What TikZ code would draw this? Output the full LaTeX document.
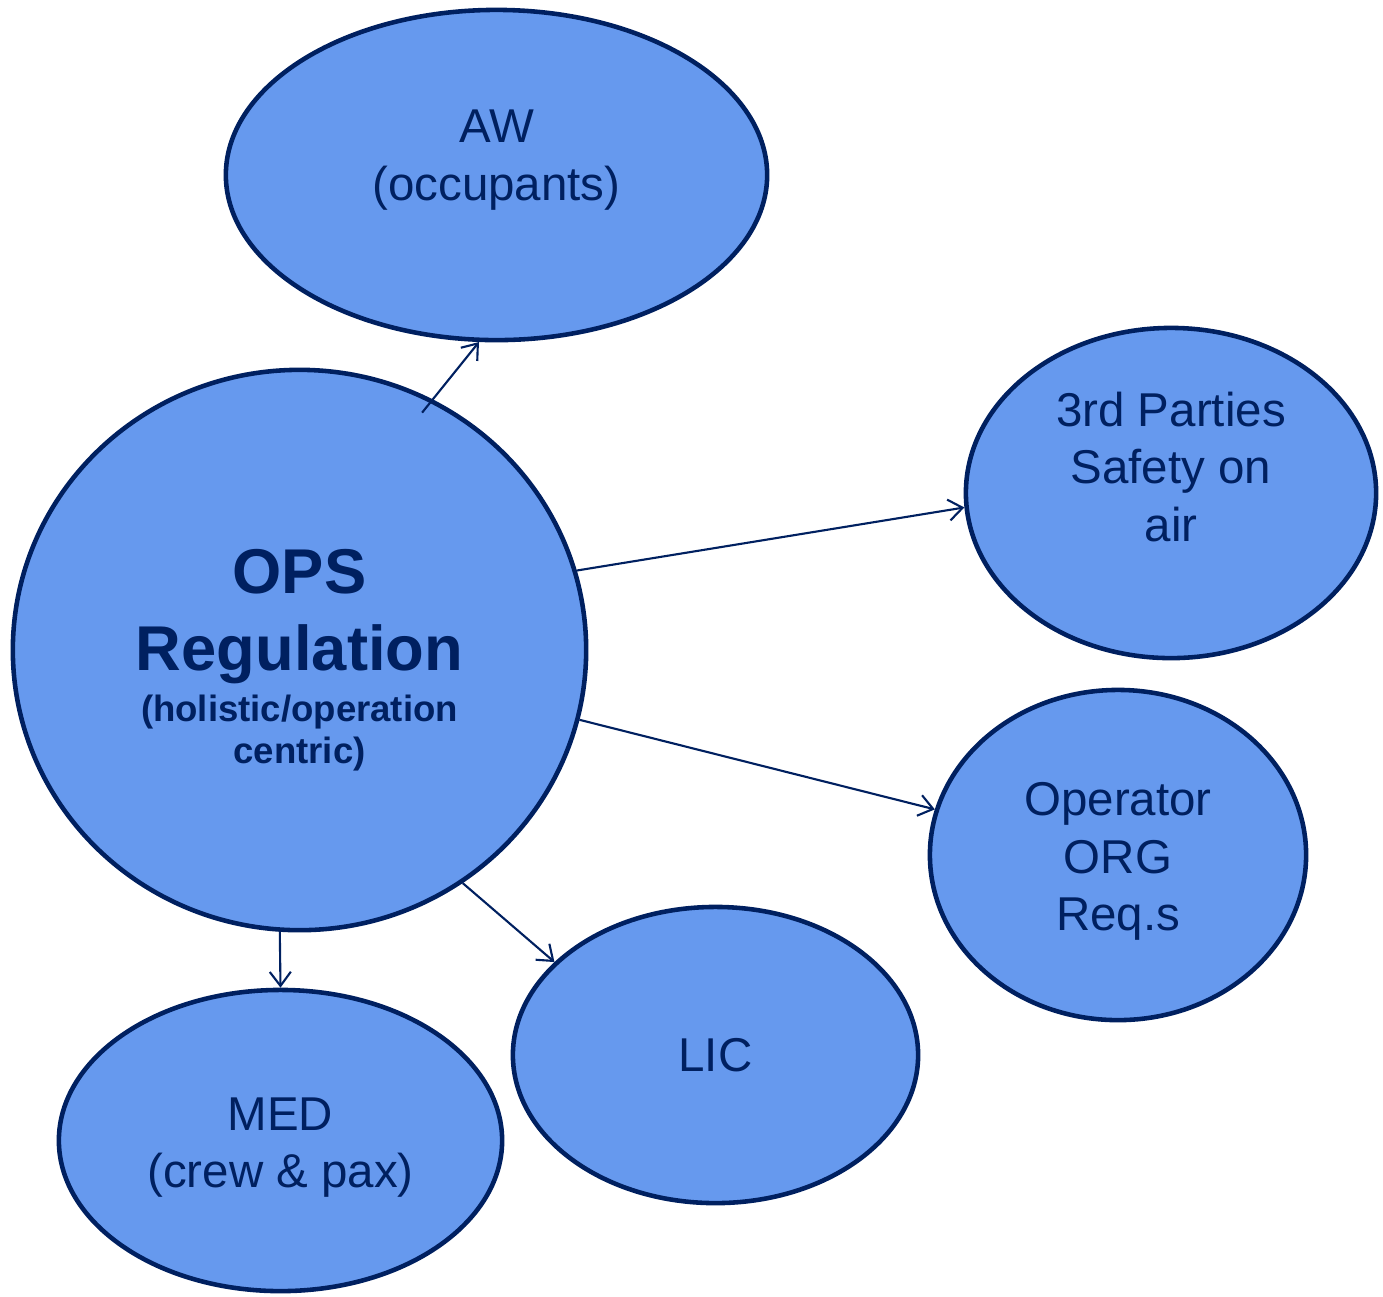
\documentclass[tikz,border=0pt]{standalone}
\usepackage{fontspec}
\setmainfont{Liberation Sans}
\usetikzlibrary{shapes.geometric,arrows.meta}

\begin{document}
\begin{tikzpicture}[x=0.01cm,y=-0.01cm,
    bubble/.style={ellipse,draw=r0g32b96,line width=1.3pt,fill=r102g153b238,inner sep=0pt},
    lbl/.style={text=r0g32b96,align=center,inner sep=0pt,font=\fontsize{13.5}{16.3}\selectfont},
    link/.style={draw=r0g32b96,line width=0.6pt,-{Straight Barb[length=4pt,width=6pt]}}]
% \clip (0,0) rectangle (1383,1296);
\useasboundingbox (0,0) rectangle (1383,1296);

% Changing color 0 32 96
\definecolor{r0g32b96}{rgb}{0.000000,0.125490,0.376471}%
% Changing color 102 153 238
\definecolor{r102g153b238}{rgb}{0.400000,0.600000,0.933333}%

% Drawing ellipse AW
\node[bubble,minimum width=5.41cm,minimum height=3.30cm] (aw) at (496.5,175) {};
\node[lbl] (awtext) at (496.5,160) {AW\\(occupants)};

% Drawing ellipse OPS
\node[bubble,minimum width=5.73cm,minimum height=5.60cm] (ops) at (299.5,650) {};
\node[lbl,font=\fontsize{18}{22}\selectfont\bfseries] (opstext) at (299.5,616.5) {OPS\\Regulation};
\node[lbl,font=\fontsize{10.4}{12}\selectfont\bfseries] (opssub) at (299.5,733) {(holistic/operation\\centric)};

% Drawing ellipse 3rd parties
\node[bubble,minimum width=4.10cm,minimum height=3.30cm] (third) at (1171,493) {};
\node[lbl] (thirdtext) at (1171,467) {3rd Parties\\Safety on\\air};

% Drawing ellipse operator
\node[bubble,minimum width=3.76cm,minimum height=3.30cm] (oper) at (1118,855) {};
\node[lbl] (opertext) at (1118,861.5) {Operator\\ORG\\Req.s};

% Drawing ellipse LIC
\node[bubble,minimum width=4.05cm,minimum height=2.96cm] (lic) at (715.5,1055) {};
\node[lbl] (lictext) at (715.5,1055) {LIC};

% Drawing ellipse MED
\node[bubble,minimum width=4.43cm,minimum height=3.01cm] (med) at (280.5,1140.5) {};
\node[lbl] (medtext) at (280.5,1147.5) {MED\\(crew \& pax)};

% Drawing links OPS -> rest
\draw[link,shorten <=-0.17cm] (ops.62.6) -- (aw.264.4);
\draw[link] (ops.16.5) -- (third.184.2);
\draw[link] (ops.346.5) -- (oper.166.2);
\draw[link] (ops.305.2) -- (lic.150.8);
\draw[link] (ops.266.2) -- (med.90);
\end{tikzpicture}
\end{document}
